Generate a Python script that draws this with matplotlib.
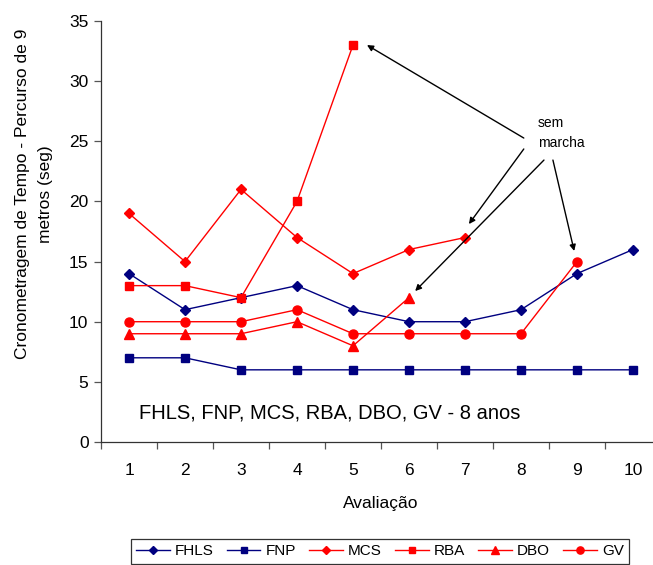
import matplotlib
matplotlib.use("Agg")
import matplotlib.pyplot as plt
from matplotlib.ticker import FixedLocator, NullFormatter

plt.rcParams['font.family'] = ['Liberation Sans', 'DejaVu Sans']

avaliacao = [1, 2, 3, 4, 5, 6, 7, 8, 9, 10]
fhls = [14, 11, 12, 13, 11, 10, 10, 11, 14, 16]
fnp = [7, 7, 6, 6, 6, 6, 6, 6, 6, 6]
mcs = [19, 15, 21, 17, 14, 16, 17]
rba = [13, 13, 12, 20, 33]
dbo = [9, 9, 9, 10, 8, 12]
gv = [10, 10, 10, 11, 9, 9, 9, 9, 15]
yticks = [0, 5, 10, 15, 20, 25, 30, 35]

NAVY = '#000080'
RED = '#FF0000'

W, H = 653, 565
fig = plt.figure(figsize=(W / 100, H / 100), dpi=100)
ax = fig.add_axes([101 / W, (H - 442) / H, 560 / W, 421 / H])

series = [
    ("FHLS", fhls, NAVY, 'D', 5.5),
    ("FNP", fnp, NAVY, 's', 6),
    ("MCS", mcs, RED, 'D', 5.5),
    ("RBA", rba, RED, 's', 6),
    ("DBO", dbo, RED, '^', 7),
    ("GV", gv, RED, 'o', 6.5),
]
for name, vals, col, mk, ms in series:
    ax.plot(avaliacao[:len(vals)], vals, color=col, marker=mk, markersize=ms,
            lw=1.0, label=name, clip_on=False)

ax.set_xlim(0.5, 10.5)
ax.set_ylim(0, 35)
ax.set_yticks(yticks)
ax.set_xticks(avaliacao)
ax.xaxis.set_minor_locator(FixedLocator([i + 0.5 for i in range(0, 11)]))
ax.xaxis.set_minor_formatter(NullFormatter())
ax.tick_params(axis='x', which='major', length=0, pad=15, labelsize=12.5)
ax.tick_params(axis='x', which='minor', length=5, width=0.9, color='#555555', direction='out')
ax.tick_params(axis='y', length=5, width=0.9, color='#555555', direction='out', labelsize=12.5, pad=4)
for s in ['top', 'right']:
    ax.spines[s].set_visible(False)
for s in ['left', 'bottom']:
    ax.spines[s].set_linewidth(0.9)
    ax.spines[s].set_color('#333333')

ax.set_xlabel("Avaliação", fontsize=12.5, labelpad=13)

fig.text(34 / W, (H - 194) / H, "Cronometragem de Tempo - Percurso de 9\nmetros (seg)",
         rotation=90, ha='center', va='center', fontsize=12.5, linespacing=1.7,
         multialignment='center')

ax.text((139 - 101) / 560, (442 - 413) / 421, "FHLS, FNP, MCS, RBA, DBO, GV - 8 anos",
        transform=ax.transAxes, fontsize=14.5, ha='left', va='center')

ax.text(8.3, 25.7, "sem\nmarcha", fontsize=10, ha='left', va='center', linespacing=1.5)
arrows = [
    ((8.05, 25.27), (5.25, 33.0)),
    ((8.05, 24.36), (7.07, 18.12)),
    ((8.41, 23.44), (6.11, 12.55)),
    ((8.57, 23.44), (8.95, 15.88)),
]
for tail, head in arrows:
    ax.annotate("", xy=head, xytext=tail,
                arrowprops=dict(arrowstyle='-|>', color='black', lw=1.0,
                                mutation_scale=9, shrinkA=0, shrinkB=0))

leg = fig.legend(loc='upper center', bbox_to_anchor=(380 / W, (H - 539) / H),
                 ncol=6, fontsize=11, frameon=True, fancybox=False, shadow=False,
                 handlelength=2.2, handletextpad=0.35, columnspacing=0.85,
                 borderpad=0.35, borderaxespad=0, markerscale=0.8)
leg.get_frame().set_edgecolor('black')
leg.get_frame().set_linewidth(0.9)

fig.savefig("out.png", dpi=100)
